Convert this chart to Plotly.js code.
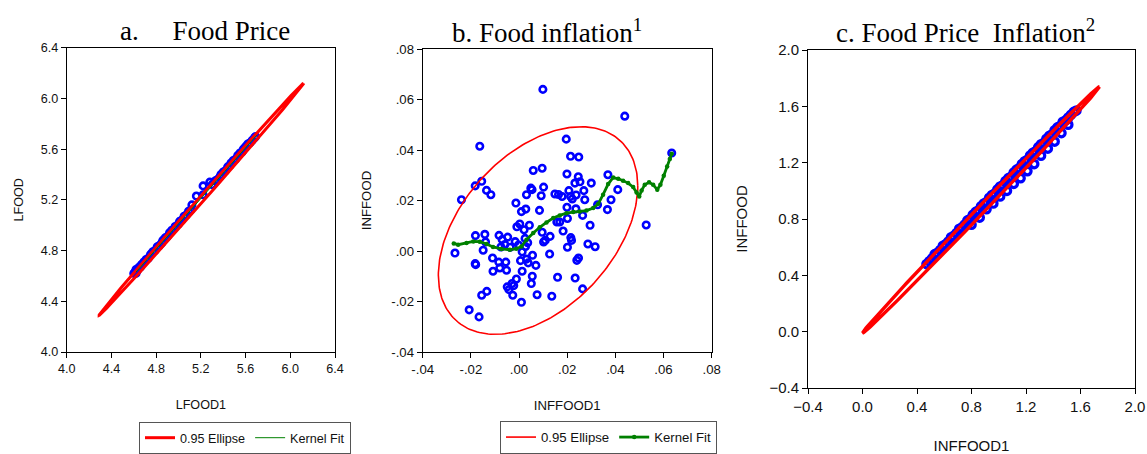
<!DOCTYPE html>
<html>
<head>
<meta charset="utf-8">
<script src="https://cdn.plot.ly/plotly-3.0.1.min.js"></script>
<style>html,body{margin:0;padding:0;background:#fff;}#chart{width:1147px;height:454px;}</style>
</head>
<body>
<div id="chart"></div>
<script>
// ---------- Panel a: Food Price (LFOOD vs LFOOD1) ----------
const aX = [4.60,4.61,4.62,4.62,4.63,4.64,4.65,4.66,4.67,4.69,4.71,4.73,4.75,4.77,4.79,4.81,4.83,4.85,4.86,4.88,4.90,4.92,4.94,4.97,5.00,5.01,5.03,5.05,5.07,5.09,5.11,5.12,5.16,5.22,5.22,5.28,5.30,5.33,5.35,5.37,5.38,5.40,5.42,5.44,5.46,5.47,5.49,5.51,5.53,5.55,5.57,5.58,5.60,5.62,5.64,5.66,5.68,5.69];
const aY = [4.62,4.63,4.62,4.65,4.64,4.66,4.67,4.67,4.69,4.71,4.73,4.74,4.77,4.79,4.80,4.83,4.84,4.86,4.88,4.90,4.91,4.94,4.96,4.99,5.01,5.03,5.04,5.07,5.08,5.11,5.12,5.16,5.23,5.24,5.31,5.34,5.32,5.35,5.36,5.38,5.40,5.42,5.43,5.46,5.47,5.49,5.51,5.52,5.55,5.57,5.58,5.60,5.62,5.64,5.65,5.67,5.69,5.70];
const aKernelX = [4.62,4.80,5.00,5.20,5.40,5.60,5.70];
const aKernelY = [4.63,4.81,5.01,5.21,5.41,5.61,5.71];
// ellipse: centre x, centre y, half x-extent, half y-extent, correlation
const aEllipse = [5.205, 5.205, 0.915, 0.915, 0.9994];

// ---------- Panel b: Food inflation (INFFOOD vs INFFOOD1) ----------
const bX = [0.0099,0.0439,-0.0163,0.0196,0.0214,0.0248,0.0634,0.0059,0.0096,0.0199,0.0246,0.0232,0.0253,0.0300,0.0369,-0.0182,-0.0155,-0.0135,-0.0117,-0.0239,0.0049,0.0054,0.0102,0.0031,0.0092,0.0149,0.0164,0.0179,0.0207,0.0214,0.0221,0.0237,0.0269,0.0273,0.0410,0.0382,0.0326,0.0367,-0.0013,0.0028,0.0010,0.0085,0.0199,0.0236,0.0264,0.0201,0.0157,0.0169,0.0295,0.0528,-0.0009,0.0003,0.0043,0.0021,0.0183,0.0096,0.0129,0.0102,0.0109,0.0215,0.0218,0.0201,0.0286,0.0316,-0.0181,-0.0142,-0.0266,-0.0149,-0.0139,-0.0083,-0.0070,-0.0047,-0.0059,-0.0075,-0.0037,-0.0016,-0.0002,0.0025,0.0036,0.0027,0.0013,-0.0110,-0.0084,-0.0055,-0.0080,-0.0052,-0.0108,-0.0182,-0.0180,0.0006,0.0031,0.0038,0.0056,0.0070,0.0127,0.0013,0.0055,0.0051,-0.0011,-0.0029,-0.0049,-0.0042,-0.0022,-0.0026,0.0010,0.0075,0.0136,0.0160,0.0233,0.0240,0.0247,0.0264,-0.0134,-0.0155,-0.0207,-0.0166];
const bY = [0.0640,0.0534,0.0415,0.0443,0.0375,0.0372,0.0388,0.0319,0.0328,0.0305,0.0294,0.0269,0.0274,0.0269,0.0302,0.0258,0.0276,0.0240,0.0223,0.0203,0.0249,0.0243,0.0253,0.0223,0.0219,0.0226,0.0224,0.0216,0.0239,0.0216,0.0206,0.0222,0.0239,0.0203,0.0243,0.0203,0.0183,0.0164,0.0190,0.0166,0.0156,0.0161,0.0173,0.0167,0.0141,0.0129,0.0115,0.0115,0.0102,0.0103,0.0096,0.0107,0.0102,0.0084,0.0079,0.0074,0.0058,0.0036,0.0042,0.0053,0.0042,0.0015,0.0028,0.0017,0.0061,0.0066,-0.0008,0.0003,0.0036,0.0062,0.0045,0.0055,0.0026,0.0016,0.0015,0.0037,0.0024,0.0050,0.0033,0.0018,-0.0003,-0.0028,-0.0044,-0.0044,-0.0067,-0.0076,-0.0080,-0.0050,-0.0054,-0.0038,-0.0032,-0.0047,-0.0017,-0.0057,-0.0012,-0.0080,-0.0100,-0.0129,-0.0111,-0.0129,-0.0142,-0.0153,-0.0137,-0.0175,-0.0203,-0.0173,-0.0179,-0.0104,-0.0107,-0.0037,-0.0028,-0.0150,-0.0160,-0.0175,-0.0233,-0.0261];
const bKernelX = [-0.0271,-0.0253,-0.0218,-0.0190,-0.0163,-0.0135,-0.0108,-0.0073,-0.0038,-0.0011,0.0010,0.0031,0.0059,0.0086,0.0114,0.0142,0.0169,0.0197,0.0225,0.0252,0.0280,0.0308,0.0329,0.0349,0.0370,0.0391,0.0412,0.0432,0.0453,0.0474,0.0488,0.0499,0.0509,0.0522,0.0540,0.0557,0.0574,0.0587,0.0601,0.0615,0.0626,0.0634];
const bKernelY = [0.0030,0.0025,0.0032,0.0038,0.0037,0.0028,0.0016,0.0008,0.0005,0.0009,0.0018,0.0045,0.0071,0.0094,0.0113,0.0131,0.0141,0.0150,0.0154,0.0156,0.0160,0.0170,0.0187,0.0223,0.0265,0.0291,0.0286,0.0278,0.0269,0.0253,0.0232,0.0216,0.0240,0.0262,0.0272,0.0262,0.0243,0.0262,0.0298,0.0335,0.0364,0.0385];
const bEllipse = [0.0079, 0.0081, 0.0414, 0.0411, 0.43];
const bTickVals = [-0.04,-0.02,0,0.02,0.04,0.06,0.08];
const bTickText = ['-.04','-.02','.00','.02','.04','.06','.08'];

// ---------- Panel c: Food Price Inflation ----------
const cX = [0.47,0.49,0.51,0.53,0.55,0.57,0.59,0.61,0.63,0.65,0.67,0.69,0.71,0.73,0.75,0.77,0.79,0.81,0.83,0.85,0.87,0.89,0.91,0.93,0.95,0.97,0.99,1.01,1.03,1.05,1.07,1.09,1.11,1.13,1.15,1.17,1.19,1.21,1.23,1.25,1.27,1.29,1.31,1.33,1.35,1.37,1.39,1.41,1.43,1.45,1.47,1.49,1.51,1.53,1.55,1.57,0.80,0.86,0.91,0.96,1.01,1.06,1.11,1.16,1.21,1.26,1.31,1.36,1.41,1.46,1.51];
const cY = [0.48,0.50,0.52,0.55,0.56,0.58,0.61,0.62,0.64,0.67,0.68,0.70,0.73,0.74,0.76,0.79,0.80,0.83,0.85,0.86,0.89,0.91,0.92,0.95,0.97,0.98,1.01,1.03,1.04,1.07,1.09,1.10,1.13,1.15,1.16,1.19,1.21,1.22,1.25,1.27,1.28,1.31,1.33,1.34,1.37,1.39,1.40,1.43,1.45,1.46,1.49,1.50,1.52,1.54,1.56,1.57,0.76,0.81,0.87,0.91,0.96,1.00,1.05,1.09,1.14,1.19,1.25,1.30,1.35,1.41,1.47];
const cEllipse = [0.87, 0.865, 0.87, 0.875, 0.9991];

const titleA = 'a.\u00a0\u00a0\u00a0\u00a0 Food Price';
const titleB = 'b. Food inflation<sup>1</sup>';
const titleC = 'c. Food Price\u00a0 Inflation<sup>2</sup>';

function ellipsePts(p) {
  const [cx, cy, hx, hy, r] = p, xs = [], ys = [], n = 240, s = Math.sqrt(1 - r * r);
  for (let i = 0; i <= n; i++) {
    const t = 2 * Math.PI * i / n;
    xs.push(cx + hx * Math.cos(t));
    ys.push(cy + hy * (r * Math.cos(t) + s * Math.sin(t)));
  }
  return [xs, ys];
}

const RED = '#FF0000', BLUE = '#0000FF', GREEN = '#008000';
const eA = ellipsePts(aEllipse), eB = ellipsePts(bEllipse), eC = ellipsePts(cEllipse);
const mk = {symbol: 'circle-open', size: 6.5, color: BLUE, line: {width: 2.6}};
const mkC = {symbol: 'circle-open', size: 7.5, color: BLUE, line: {width: 3.2}};

const traces = [
  {x: aX, y: aY, xaxis: 'x', yaxis: 'y', mode: 'markers', marker: mk, showlegend: false},
  {x: eA[0], y: eA[1], xaxis: 'x', yaxis: 'y', mode: 'lines', line: {color: RED, width: 3}, name: '0.95 Ellipse', legend: 'legend'},
  {x: aKernelX, y: aKernelY, xaxis: 'x', yaxis: 'y', mode: 'lines', line: {color: GREEN, width: 1}, name: 'Kernel Fit', legend: 'legend'},

  {x: bX, y: bY, xaxis: 'x2', yaxis: 'y2', mode: 'markers', marker: mk, showlegend: false},
  {x: eB[0], y: eB[1], xaxis: 'x2', yaxis: 'y2', mode: 'lines', line: {color: RED, width: 1.6}, name: '0.95 Ellipse', legend: 'legend2'},
  {x: bKernelX, y: bKernelY, xaxis: 'x2', yaxis: 'y2', mode: 'lines+markers', line: {color: GREEN, width: 2.8}, marker: {color: GREEN, size: 4.5}, name: 'Kernel Fit', legend: 'legend2'},

  {x: cX, y: cY, xaxis: 'x3', yaxis: 'y3', mode: 'markers', marker: mkC, showlegend: false},
  {x: eC[0], y: eC[1], xaxis: 'x3', yaxis: 'y3', mode: 'lines', line: {color: RED, width: 3.4}, name: '0.95 Ellipse', showlegend: false}
];

const FAM = 'Liberation Sans, Arial, sans-serif';
const fA = {family: FAM, size: 12.6, color: '#111'};
const fB = {family: FAM, size: 13.2, color: '#111'};
const fC = {family: FAM, size: 15, color: '#111'};
const axBase = {showline: true, mirror: true, linecolor: '#000', linewidth: 1, ticks: 'outside', ticklen: 5, tickcolor: '#000',
  showgrid: false, zeroline: false, fixedrange: true, automargin: false};
const W = 1147, H = 454;
const px = v => v / W, py = v => 1 - v / H;
const ax = o => Object.assign({}, axBase, o);
const serif = {family: 'Liberation Serif, Times New Roman, serif', size: 27, color: '#000'};

const layout = {
  width: W, height: H, margin: {l: 0, r: 0, t: 0, b: 0, autoexpand: false},
  paper_bgcolor: '#fff', plot_bgcolor: '#fff',
  font: {family: FAM, size: 13, color: '#111'},
  xaxis: ax({domain: [px(66.7), px(335)], range: [4.0, 6.4], tickvals: [4.0,4.4,4.8,5.2,5.6,6.0,6.4], tickformat: '.1f', anchor: 'y', tickfont: fA, title: {text: 'LFOOD1', font: fA, standoff: 25}}),
  yaxis: ax({domain: [py(352), py(47.7)], range: [4.0, 6.4], tickvals: [4.0,4.4,4.8,5.2,5.6,6.0,6.4], tickformat: '.1f', anchor: 'x', tickfont: fA, title: {text: 'LFOOD', font: fA, standoff: 14}}),
  xaxis2: ax({domain: [px(422.7), px(711.7)], range: [-0.04, 0.08], tickvals: bTickVals, ticktext: bTickText, anchor: 'y2', tickfont: fB, title: {text: 'INFFOOD1', font: fB, standoff: 24}}),
  yaxis2: ax({domain: [py(352), py(49)], range: [-0.04, 0.08], tickvals: bTickVals, ticktext: bTickText, anchor: 'x2', tickfont: fB, title: {text: 'INFFOOD', font: fB, standoff: 16}}),
  xaxis3: ax({domain: [px(808), px(1135)], range: [-0.4, 2.0], tickvals: [-0.4,0,0.4,0.8,1.2,1.6,2.0], tickformat: '.1f', anchor: 'y3', tickfont: fC, title: {text: 'INFFOOD1', font: fC, standoff: 27}}),
  yaxis3: ax({domain: [py(388), py(50)], range: [-0.4, 2.0], tickvals: [-0.4,0,0.4,0.8,1.2,1.6,2.0], tickformat: '.1f', anchor: 'x3', tickfont: fC, title: {text: 'INFFOOD', font: fC, standoff: 18}}),
  legend: {x: px(139), y: 0, xanchor: 'left', yanchor: 'bottom', orientation: 'h', bgcolor: '#fff', bordercolor: '#555', borderwidth: 1, font: fA, itemwidth: 30, tracegroupgap: 0},
  legend2: {x: px(500), y: 0, xanchor: 'left', yanchor: 'bottom', orientation: 'h', bgcolor: '#fff', bordercolor: '#555', borderwidth: 1, font: fB, itemwidth: 30, tracegroupgap: 0},
  annotations: [
    {text: titleA, x: px(205), y: py(31), xref: 'paper', yref: 'paper', xanchor: 'center', yanchor: 'middle', showarrow: false, font: serif},
    {text: titleB, x: px(547), y: py(31), xref: 'paper', yref: 'paper', xanchor: 'center', yanchor: 'middle', showarrow: false, font: serif},
    {text: titleC, x: px(965), y: py(31), xref: 'paper', yref: 'paper', xanchor: 'center', yanchor: 'middle', showarrow: false, font: serif}
  ]
};

Plotly.newPlot('chart', traces, layout, {displayModeBar: false, staticPlot: true});
</script>
</body>
</html>
